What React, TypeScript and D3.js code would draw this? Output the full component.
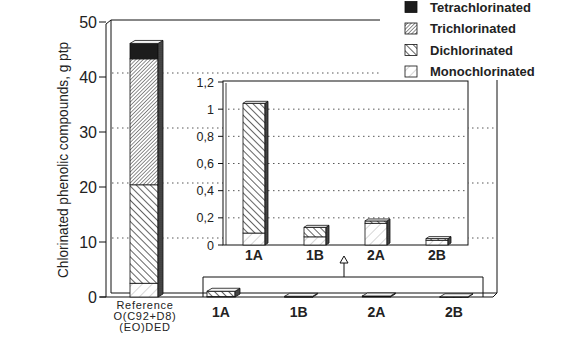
import React from "react";
import * as d3 from "d3";

const seriesNames = ["Tetrachlorinated", "Trichlorinated", "Dichlorinated", "Monochlorinated"];
const stackOrder = ["mono", "di", "tri", "tetra"];
const referenceLines = ["Reference", "O(C92+D8)", "(EO)DED"];
const referenceStack = [2.5, 17.9, 22.9, 2.8]; // mono, di, tri, tetra
const categories = ["1A", "1B", "2A", "2B"];
const monoValues = [0.088, 0.06, 0.16, 0.035];
const diValues = [0.955, 0.07, 0.017, 0.012];
const triValues = [0, 0, 0, 0];
const tetraValues = [0, 0, 0, 0];
const mainTicks = [0, 10, 20, 30, 40, 50];
const insetTicks = [0, 0.2, 0.4, 0.6, 0.8, 1, 1.2];
const insetTickLabels = ["0", "0,2", "0,4", "0,6", "0,8", "1", "1,2"];

const FONT = "'Liberation Sans', Arial, Helvetica, sans-serif";
const fillFor: Record<string, string> = {
  mono: "url(#pMono)",
  di: "url(#pDi)",
  tri: "url(#pTri)",
  tetra: "#1c1c1c",
};
const legendKey = ["tetra", "tri", "di", "mono"];

function Bar3D({ x, w, segs, dx, dy }: { x: number; w: number; segs: { y0: number; y1: number; key: string }[]; dx: number; dy: number }) {
  if (!segs.length) return null;
  const yb = segs[0].y0;
  const yt = segs[segs.length - 1].y1;
  return (
    <g>
      {segs.map((s, i) => (
        <rect key={i} x={x} y={s.y1} width={w} height={Math.max(0.6, s.y0 - s.y1)} fill={fillFor[s.key]} stroke="#111" strokeWidth={0.8} />
      ))}
      <polygon
        points={`${x + w},${yb} ${x + w + dx},${yb + dy} ${x + w + dx},${yt + dy} ${x + w},${yt}`}
        fill="url(#pSide)"
        stroke="#111"
        strokeWidth={0.8}
      />
      <polygon
        points={`${x},${yt} ${x + dx},${yt + dy} ${x + w + dx},${yt + dy} ${x + w},${yt}`}
        fill="#f4f4f4"
        stroke="#111"
        strokeWidth={0.8}
      />
    </g>
  );
}

function stackSegs(vals: number[], y: d3.ScaleLinear<number, number>) {
  const segs: { y0: number; y1: number; key: string }[] = [];
  let acc = 0;
  vals.forEach((v, i) => {
    if (v > 0) {
      segs.push({ y0: y(acc), y1: y(acc + v), key: stackOrder[i] });
      acc += v;
    }
  });
  return segs;
}

export default function App() {
  const yMain = d3.scaleLinear().domain([0, 50]).range([297, 22]);
  const yInset = d3.scaleLinear().domain([0, 1.2]).range([245, 82]);
  const xInset = d3.scalePoint<string>().domain(categories).range([254, 437]);
  const xBottom = d3.scalePoint<string>().domain(categories).range([221, 454]);
  const xRef = d3.scalePoint<string>().domain(["Reference"]).range([144, 144]);

  const depth = 4;
  const refW = 28;
  const insetW = 22;
  const botW = 28;

  return (
    <svg width={566} height={354} style={{ position: "absolute", left: 0, top: 0, background: "#fff" }} fontFamily={FONT}>
      <defs>
        <pattern id="pTri" width={2.6} height={2.6} patternUnits="userSpaceOnUse" patternTransform="rotate(45)">
          <rect width={2.6} height={2.6} fill="#fff" />
          <line x1={0} y1={0} x2={0} y2={2.6} stroke="#333" strokeWidth={1.1} />
        </pattern>
        <pattern id="pDi" width={5} height={5} patternUnits="userSpaceOnUse" patternTransform="rotate(-45)">
          <rect width={5} height={5} fill="#fff" />
          <line x1={0} y1={0} x2={0} y2={5} stroke="#111" strokeWidth={1.3} />
        </pattern>
        <pattern id="pMono" width={7} height={7} patternUnits="userSpaceOnUse" patternTransform="rotate(45)">
          <rect width={7} height={7} fill="#fff" />
          <line x1={0} y1={0} x2={0} y2={7} stroke="#888" strokeWidth={0.7} />
        </pattern>
        <pattern id="pSide" width={2} height={2} patternUnits="userSpaceOnUse">
          <rect width={2} height={2} fill="#333" />
          <circle cx={1} cy={1} r={0.45} fill="#bbb" />
        </pattern>
      </defs>

      {/* main frame */}
      <g stroke="#111" strokeWidth={1} fill="none">
        <line x1={111} y1={20} x2={380} y2={20} />
        <line x1={106} y1={24} x2={111} y2={20} />
        <line x1={106} y1={24} x2={106} y2={297} />
        <line x1={111} y1={20} x2={111} y2={293} />
        <line x1={100} y1={297} x2={493} y2={297} />
        <line x1={111} y1={293} x2={497} y2={293} />
        <line x1={493} y1={297} x2={497} y2={293} />
        <line x1={497} y1={80} x2={497} y2={293} />
      </g>
      {/* main gridlines */}
      {mainTicks.filter((t) => t > 0 && t < 50).map((t) => (
        <line key={t} x1={112} x2={497} y1={yMain(t) - depth} y2={yMain(t) - depth} stroke="#444" strokeWidth={0.9} strokeDasharray="1.5,3.5" />
      ))}
      {/* main ticks */}
      {mainTicks.map((t) => (
        <g key={t}>
          <line x1={99} x2={106} y1={yMain(t)} y2={yMain(t)} stroke="#111" />
          <text x={97} y={yMain(t)} dy="0.36em" textAnchor="end" fontSize={16} fill="#222">{t}</text>
        </g>
      ))}
      <text
        transform="translate(68,160) rotate(-90)"
        textAnchor="middle"
        fontSize={15}
        fill="#222"
        textLength={236}
        lengthAdjust="spacingAndGlyphs"
      >
        Chlorinated phenolic compounds, g ptp
      </text>

      {/* reference bar */}
      <Bar3D x={(xRef("Reference") as number) - refW / 2} w={refW} segs={stackSegs(referenceStack, yMain)} dx={5} dy={-3} />
      {referenceLines.map((l, i) => (
        <text key={i} x={145} y={309 + i * 11.2} textAnchor="middle" fontSize={11} fill="#222" letterSpacing={0.7}>{l}</text>
      ))}

      {/* bottom bars */}
      {categories.map((c, i) => {
        const cx = xBottom(c) as number;
        return (
          <g key={c}>
            <Bar3D x={cx - botW / 2} w={botW} segs={stackSegs([monoValues[i], diValues[i], triValues[i], tetraValues[i]], yMain)} dx={5} dy={-3} />
            <text x={cx} y={317} textAnchor="middle" fontSize={14} fontWeight="bold" fill="#222">{c}</text>
          </g>
        );
      })}
      {/* bracket + arrow */}
      <path d="M203,297 V277 H483 V297" fill="none" stroke="#111" strokeWidth={1} />
      <line x1={344} x2={344} y1={277} y2={263} stroke="#111" strokeWidth={1} />
      <polygon points="344,256 340,263 348,263" fill="#fff" stroke="#111" strokeWidth={1} />

      {/* inset */}
      <rect x={223} y={81} width={245} height={164} fill="#fff" stroke="#111" strokeWidth={1} />
      <line x1={226} x2={226} y1={83} y2={245} stroke="#111" strokeWidth={0.8} />
      {insetTicks.filter((t) => t > 0 && t < 1.2).map((t) => (
        <line key={t} x1={228} x2={466} y1={yInset(t)} y2={yInset(t)} stroke="#444" strokeWidth={0.9} strokeDasharray="1.5,3.5" />
      ))}
      {insetTicks.map((t, i) => (
        <g key={t}>
          <line x1={218} x2={223} y1={yInset(t)} y2={yInset(t)} stroke="#111" />
          <text x={214} y={yInset(t)} dy="0.36em" textAnchor="end" fontSize={12.5} fill="#222">{insetTickLabels[i]}</text>
        </g>
      ))}
      {categories.map((c, i) => {
        const cx = xInset(c) as number;
        return (
          <g key={c}>
            <Bar3D x={cx - insetW / 2} w={insetW} segs={stackSegs([monoValues[i], diValues[i], triValues[i], tetraValues[i]], yInset)} dx={3} dy={-2} />
            <text x={cx} y={260} textAnchor="middle" fontSize={14} fontWeight="bold" fill="#222">{c}</text>
          </g>
        );
      })}

      {/* legend */}
      <rect x={380} y={0} width={186} height={79} fill="#fff" />
      {seriesNames.map((n, i) => {
        const y = 7 + i * 21.5;
        return (
          <g key={n}>
            <rect x={405} y={y - 5.5} width={12} height={11} fill={fillFor[legendKey[i]]} stroke="#111" strokeWidth={0.8} />
            <text x={430} y={y} dy="0.36em" fontSize={13} fontWeight="bold" fill="#222">{n}</text>
          </g>
        );
      })}
    </svg>
  );
}
